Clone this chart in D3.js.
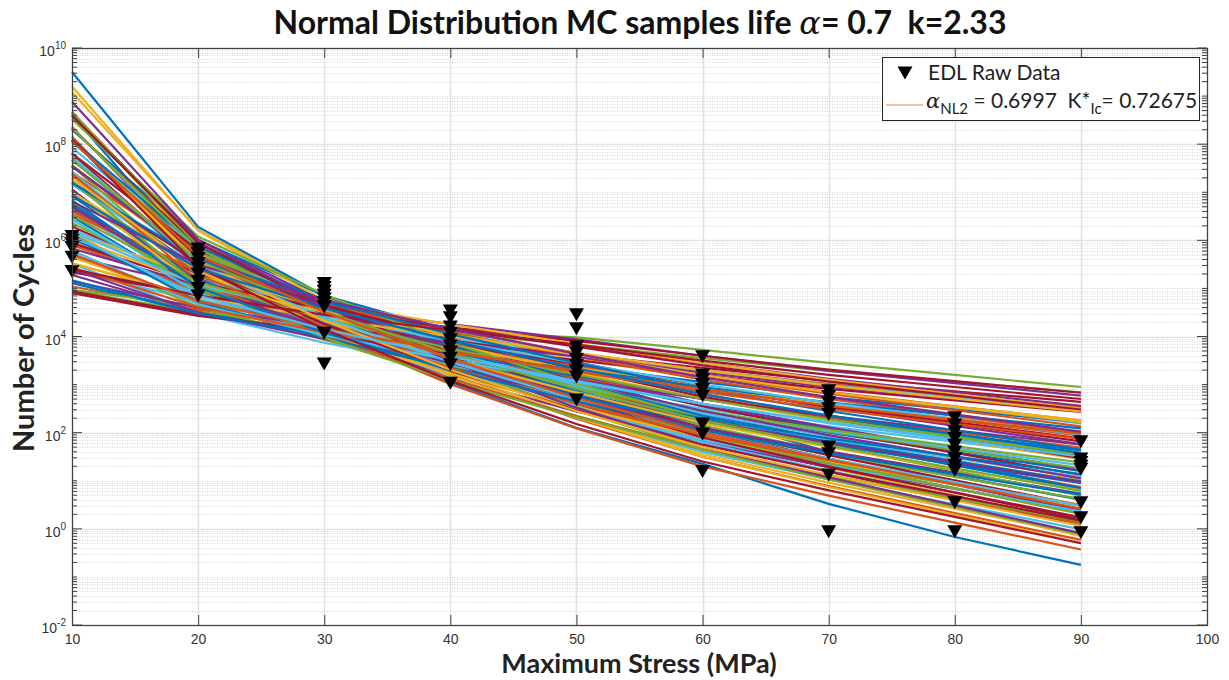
<!DOCTYPE html>
<html>
<head>
<meta charset="utf-8">
<script src="https://cdn.jsdelivr.net/npm/d3@7"></script>
<style>
  body { margin: 0; background: #fff; }
  svg { display: block; }
</style>
</head>
<body>
<svg id="chart" width="1229" height="680"></svg>
<script>
// stress levels (MPa) where every MC sample is evaluated
var stressLevels = [10, 20, 30, 40, 50, 60, 70, 80, 90];

// MC sample lives, log10(cycles) at each stress level
var mcLog10Cycles = [
  [8.60, 5.60, 4.15, 3.05, 2.10, 1.35, 0.52, -0.17, -0.75],
  [7.42, 5.68, 4.77, 4.02, 3.38, 2.80, 2.33, 1.91, 1.49],
  [9.08, 6.22, 4.83, 3.68, 2.72, 1.90, 1.27, 0.69, 0.11],
  [5.28, 4.52, 4.03, 3.63, 3.27, 2.90, 2.57, 2.29, 2.01],
  [4.95, 4.50, 4.22, 4.10, 3.98, 3.72, 3.45, 3.20, 2.95],
  [7.93, 5.77, 4.68, 3.78, 3.02, 2.35, 1.82, 1.34, 0.86],
  [6.29, 5.11, 4.44, 3.89, 3.41, 2.95, 2.56, 2.22, 1.88],
  [9.50, 6.28, 4.85, 4.12, 3.20, 2.35, 1.60, 0.95, 0.35],
  [5.04, 4.56, 4.19, 3.89, 3.61, 3.30, 3.01, 2.77, 2.53],
  [7.29, 5.41, 4.44, 3.64, 2.96, 2.35, 1.86, 1.42, 0.98],
  [6.93, 5.47, 4.68, 4.03, 3.47, 2.95, 2.52, 2.14, 1.76],
  [7.55, 5.25, 4.10, 3.15, 2.35, 1.65, 1.10, 0.60, 0.10],
  [6.22, 5.18, 4.57, 4.07, 3.63, 3.20, 2.83, 2.51, 2.19],
  [8.66, 5.94, 4.61, 3.51, 2.59, 1.80, 1.19, 0.63, 0.07],
  [5.11, 4.49, 4.06, 3.71, 3.39, 3.05, 2.74, 2.48, 2.22],
  [7.56, 5.54, 4.51, 3.66, 2.94, 2.30, 1.79, 1.33, 0.87],
  [6.18, 4.72, 3.93, 3.28, 2.72, 2.20, 1.77, 1.39, 1.01],
  [8.59, 6.01, 4.74, 3.69, 2.81, 2.05, 1.46, 0.92, 0.38],
  [4.97, 4.63, 4.32, 4.07, 3.83, 3.55, 3.28, 3.06, 2.84],
  [6.67, 4.93, 4.02, 3.27, 2.63, 2.05, 1.58, 1.16, 0.74],
  [6.61, 5.29, 4.56, 3.96, 3.44, 2.95, 2.54, 2.18, 1.82],
  [8.30, 6.00, 4.85, 3.90, 3.10, 2.40, 1.85, 1.35, 0.85],
  [5.90, 5.00, 4.45, 4.00, 3.60, 3.20, 2.85, 2.55, 2.25],
  [9.20, 6.20, 4.75, 3.55, 2.55, 1.70, 1.05, 0.45, -0.15],
  [5.66, 5.04, 4.61, 4.26, 3.94, 3.60, 3.29, 3.03, 2.77],
  [6.79, 4.91, 3.94, 3.14, 2.46, 1.85, 1.36, 0.92, 0.48],
  [5.52, 4.48, 3.87, 3.37, 2.93, 2.50, 2.13, 1.81, 1.49],
  [8.07, 5.63, 4.42, 3.42, 2.58, 1.85, 1.28, 0.76, 0.24],
  [6.75, 5.15, 4.30, 3.60, 3.00, 2.45, 2.00, 1.60, 1.20],
  [8.36, 5.64, 4.31, 3.21, 2.29, 1.50, 0.89, 0.33, -0.23],
  [5.53, 4.77, 4.28, 3.88, 3.52, 3.15, 2.82, 2.54, 2.26],
  [7.06, 5.04, 4.01, 3.16, 2.44, 1.80, 1.29, 0.83, 0.37],
  [6.36, 5.04, 4.31, 3.71, 3.19, 2.70, 2.29, 1.93, 1.57],
  [8.34, 5.76, 4.49, 3.44, 2.56, 1.80, 1.21, 0.67, 0.13],
  [4.90, 4.43, 4.12, 3.87, 3.63, 3.35, 3.08, 2.86, 2.64],
  [7.17, 5.43, 4.52, 3.77, 3.13, 2.55, 2.08, 1.66, 1.24],
  [5.97, 4.93, 4.32, 3.82, 3.38, 2.95, 2.58, 2.26, 1.94],
  [8.68, 5.82, 4.43, 3.28, 2.32, 1.50, 0.87, 0.29, -0.29],
  [6.68, 5.22, 4.43, 3.78, 3.22, 2.70, 2.27, 1.89, 1.51],
  [8.05, 5.75, 4.60, 3.65, 2.85, 2.15, 1.60, 1.10, 0.60],
  [5.36, 4.74, 4.31, 3.96, 3.64, 3.30, 2.99, 2.73, 2.47],
  [7.81, 5.79, 4.76, 3.91, 3.19, 2.55, 2.04, 1.58, 1.12],
  [6.04, 4.86, 4.19, 3.64, 3.16, 2.70, 2.31, 1.97, 1.63],
  [8.16, 5.44, 4.11, 3.01, 2.09, 1.30, 0.69, 0.13, -0.43],
  [5.65, 4.75, 4.20, 3.75, 3.35, 2.95, 2.60, 2.30, 2.00],
  [7.54, 5.66, 4.69, 3.89, 3.21, 2.60, 2.11, 1.67, 1.23],
  [6.43, 4.97, 4.18, 3.53, 2.97, 2.45, 2.02, 1.64, 1.26],
  [7.82, 5.38, 4.17, 3.17, 2.33, 1.60, 1.03, 0.51, -0.01],
  [5.34, 4.86, 4.49, 4.19, 3.91, 3.60, 3.31, 3.07, 2.83],
  [7.68, 5.52, 4.43, 3.53, 2.77, 2.10, 1.57, 1.09, 0.61],
  [5.72, 4.68, 4.07, 3.57, 3.13, 2.70, 2.33, 2.01, 1.69],
  [8.09, 5.51, 4.24, 3.19, 2.31, 1.55, 0.96, 0.42, -0.12],
  [5.83, 5.07, 4.58, 4.18, 3.82, 3.45, 3.12, 2.84, 2.56],
  [7.31, 5.29, 4.26, 3.41, 2.69, 2.05, 1.54, 1.08, 0.62],
  [6.11, 4.79, 4.06, 3.46, 2.94, 2.45, 2.04, 1.68, 1.32],
  [8.32, 5.88, 4.67, 3.67, 2.83, 2.10, 1.53, 1.01, 0.49],
  [6.50, 4.90, 4.05, 3.35, 2.75, 2.20, 1.75, 1.35, 0.95],
  [7.80, 5.50, 4.35, 3.40, 2.60, 1.90, 1.35, 0.85, 0.35],
  [6.15, 5.25, 4.70, 4.25, 3.85, 3.45, 3.10, 2.80, 2.50],
  [7.04, 5.16, 4.19, 3.39, 2.71, 2.10, 1.61, 1.17, 0.73],
  [5.79, 4.61, 3.94, 3.39, 2.91, 2.45, 2.06, 1.72, 1.38],
  [7.43, 5.27, 4.18, 3.28, 2.52, 1.85, 1.32, 0.84, 0.36],
  [4.94, 4.46, 4.09, 3.79, 3.51, 3.20, 2.91, 2.67, 2.43],
  [6.92, 5.18, 4.27, 3.52, 2.88, 2.30, 1.83, 1.41, 0.99],
  [6.54, 5.36, 4.69, 4.14, 3.66, 3.20, 2.81, 2.47, 2.13],
  [7.00, 5.40, 4.55, 3.85, 3.25, 2.70, 2.25, 1.85, 1.45],
  [5.40, 4.50, 3.95, 3.50, 3.10, 2.70, 2.35, 2.05, 1.75],
  [8.67, 5.88, 4.52, 3.40, 2.46, 1.65, 1.03, 0.46, -0.11],
  [7.18, 5.37, 4.43, 3.66, 3.00, 2.40, 1.92, 1.49, 1.06],
  [5.94, 5.11, 4.59, 4.17, 3.79, 3.40, 3.06, 2.77, 2.48],
  [8.09, 5.86, 4.74, 3.82, 3.04, 2.35, 1.81, 1.32, 0.83],
  [6.60, 5.35, 4.65, 4.08, 3.58, 3.10, 2.70, 2.35, 2.00],
  [7.00, 5.05, 4.05, 3.23, 2.53, 1.90, 1.40, 0.95, 0.50],
  [5.15, 4.60, 4.20, 3.88, 3.58, 3.25, 2.95, 2.70, 2.45],
  [8.33, 5.82, 4.58, 3.56, 2.70, 1.95, 1.37, 0.84, 0.31],
  [6.44, 4.91, 4.09, 3.42, 2.84, 2.30, 1.86, 1.47, 1.08],
  [7.21, 5.54, 4.66, 3.94, 3.32, 2.75, 2.29, 1.88, 1.47],
  [5.17, 4.48, 4.02, 3.65, 3.31, 2.95, 2.63, 2.36, 2.09],
  [7.39, 5.16, 4.04, 3.12, 2.34, 1.65, 1.11, 0.62, 0.13],
  [6.06, 5.09, 4.51, 4.04, 3.62, 3.20, 2.84, 2.53, 2.22],
  [7.55, 5.60, 4.60, 3.78, 3.08, 2.45, 1.95, 1.50, 1.05],
  [8.52, 6.08, 4.87, 3.87, 3.03, 2.30, 1.73, 1.21, 0.69],
  [6.18, 5.07, 4.43, 3.91, 3.45, 3.00, 2.62, 2.29, 1.96],
  [8.60, 5.95, 4.65, 3.58, 2.68, 1.90, 1.30, 0.75, 0.20],
  [6.12, 4.73, 3.97, 3.35, 2.81, 2.30, 1.88, 1.51, 1.14],
  [7.37, 5.28, 4.22, 3.35, 2.61, 1.95, 1.43, 0.96, 0.49],
  [5.52, 4.83, 4.37, 4.00, 3.66, 3.30, 2.98, 2.71, 2.44],
  [6.71, 5.04, 4.16, 3.44, 2.82, 2.25, 1.79, 1.38, 0.97],
  [7.23, 5.07, 3.98, 3.08, 2.32, 1.65, 1.12, 0.64, 0.16],
  [5.78, 4.67, 4.03, 3.51, 3.05, 2.60, 2.22, 1.89, 1.56],
  [7.81, 5.44, 4.26, 3.29, 2.47, 1.75, 1.19, 0.68, 0.17],
  [7.20, 5.60, 4.75, 4.05, 3.45, 2.90, 2.45, 2.05, 1.65],
  [5.44, 4.61, 4.09, 3.67, 3.29, 2.90, 2.56, 2.27, 1.98],
  [7.30, 5.35, 4.35, 3.53, 2.83, 2.20, 1.70, 1.25, 0.80],
  [8.88, 6.02, 4.63, 3.48, 2.52, 1.70, 1.07, 0.49, -0.09],
  [6.52, 5.13, 4.37, 3.75, 3.21, 2.70, 2.28, 1.91, 1.54],
  [7.74, 5.51, 4.39, 3.47, 2.69, 2.00, 1.46, 0.97, 0.48],
  [5.40, 4.85, 4.45, 4.13, 3.83, 3.50, 3.20, 2.95, 2.70],
  [6.83, 5.02, 4.08, 3.31, 2.65, 2.05, 1.57, 1.14, 0.71],
  [5.71, 4.74, 4.16, 3.69, 3.27, 2.85, 2.49, 2.18, 1.87],
  [8.08, 5.57, 4.33, 3.31, 2.45, 1.70, 1.12, 0.59, 0.06],
  [6.81, 5.49, 4.76, 4.16, 3.64, 3.15, 2.74, 2.38, 2.02],
  [7.67, 5.58, 4.52, 3.65, 2.91, 2.25, 1.73, 1.26, 0.79],
  [6.10, 4.85, 4.15, 3.58, 3.08, 2.60, 2.20, 1.85, 1.50],
  [8.10, 5.45, 4.15, 3.08, 2.18, 1.40, 0.80, 0.25, -0.30],
  [6.94, 5.41, 4.59, 3.92, 3.34, 2.80, 2.36, 1.97, 1.58],
  [8.06, 5.69, 4.51, 3.54, 2.72, 2.00, 1.44, 0.93, 0.42]
];

// EDL raw test data
var edlStress = [
  10, 10, 10, 10, 10, 10,
  20, 20, 20, 20, 20, 20, 20, 20, 20,
  30, 30, 30, 30, 30, 30, 30, 30, 30,
  40, 40, 40, 40, 40, 40, 40, 40, 40, 40,
  50, 50, 50, 50, 50, 50, 50, 50, 50,
  60, 60, 60, 60, 60, 60, 60, 60, 60,
  70, 70, 70, 70, 70, 70, 70, 70, 70,
  80, 80, 80, 80, 80, 80, 80, 80, 80, 80, 80,
  90, 90, 90, 90, 90, 90, 90, 90
];
var edlLog10Cycles = [
  6.08, 6.00, 5.93, 5.85, 5.65, 5.35,
  5.82, 5.72, 5.62, 5.52, 5.42, 5.30, 5.15, 5.00, 4.84,
  5.10, 5.02, 4.94, 4.86, 4.78, 4.70, 4.62, 4.07, 3.43,
  4.53, 4.39, 4.20, 4.07, 3.93, 3.80, 3.68, 3.55, 3.41, 3.03,
  4.45, 4.16, 3.78, 3.65, 3.52, 3.40, 3.28, 3.16, 2.68,
  3.58, 3.20, 3.10, 3.00, 2.90, 2.76, 2.18, 1.97, 1.19,
  2.87, 2.75, 2.62, 2.50, 2.38, 1.70, 1.56, 1.12, -0.06,
  2.31, 2.16, 2.02, 1.88, 1.74, 1.60, 1.46, 1.32, 1.22, 0.54, -0.06,
  1.81, 1.45, 1.38, 1.30, 1.24, 0.54, 0.23, -0.08
];

var xTicks = [10, 20, 30, 40, 50, 60, 70, 80, 90, 100];
var yLabelExps = [-2, 0, 2, 4, 6, 8, 10];
var lineColors = ["#0072BD", "#D95319", "#EDB120", "#7E2F8E", "#77AC30", "#4DBEEE", "#A2142F"];

var svg = d3.select("svg#chart"),
    width = +svg.attr("width"),
    height = +svg.attr("height");

var plot = {left: 72, right: 1207, top: 48, bottom: 625};

var x = d3.scaleLinear().domain([10, 100]).range([plot.left, plot.right]);
var y = d3.scaleLog().domain([1e-2, 1e10]).range([plot.bottom, plot.top]);

// minor (k * 10^e) and major (even decades) y values
var yMinor = [], yMajor = [];
for (var e = -2; e <= 10; e++) {
  for (var k = 1; k <= 9; k++) {
    var v = k * Math.pow(10, e);
    if (v > 1e10) break;
    if (k == 1 && e % 2 == 0) yMajor.push(v);
    else yMinor.push(v);
  }
}

//grid
var grid = svg.append("g").attr("class", "grid");
grid.selectAll("line.minor")
  .data(yMinor)
  .enter().append("line")
  .attr("class", "minor")
  .attr("x1", plot.left).attr("x2", plot.right)
  .attr("y1", function(d) { return Math.round(y(d)) + 0.5; })
  .attr("y2", function(d) { return Math.round(y(d)) + 0.5; })
  .style("stroke", "#d6d6d6")
  .style("stroke-dasharray", "1,1.5");

grid.selectAll("line.majory")
  .data(yMajor)
  .enter().append("line")
  .attr("class", "majory")
  .attr("x1", plot.left).attr("x2", plot.right)
  .attr("y1", function(d) { return Math.round(y(d)) + 0.5; })
  .attr("y2", function(d) { return Math.round(y(d)) + 0.5; })
  .style("stroke", "#e2e2e2")
  .style("stroke-width", 1.5);

grid.selectAll("line.majorx")
  .data(xTicks)
  .enter().append("line")
  .attr("class", "majorx")
  .attr("x1", function(d) { return Math.round(x(d)) + 0.5; })
  .attr("x2", function(d) { return Math.round(x(d)) + 0.5; })
  .attr("y1", plot.top).attr("y2", plot.bottom)
  .style("stroke", "#e2e2e2")
  .style("stroke-width", 1.5);

//MC sample lines
var line = d3.line()
  .x(function(d, i) { return x(stressLevels[i]); })
  .y(function(d) { return y(Math.pow(10, d)); });

svg.append("g")
  .attr("class", "mc")
  .selectAll("path")
  .data(mcLog10Cycles)
  .enter().append("path")
  .attr("d", line)
  .style("fill", "none")
  .style("stroke", function(d, i) { return lineColors[i % lineColors.length]; })
  .style("stroke-width", 2.2);

//EDL raw data triangles
var tri = "M-7.5,-6.5L7.5,-6.5L0,6.5Z";
svg.append("g")
  .attr("class", "edl")
  .selectAll("path")
  .data(edlLog10Cycles)
  .enter().append("path")
  .attr("d", tri)
  .attr("transform", function(d, i) {
    return "translate(" + x(edlStress[i]) + "," + y(Math.pow(10, d)) + ")";
  })
  .style("fill", "black");

//axes box and ticks
var axisColor = "#404040";
var axes = svg.append("g").attr("class", "axes");

axes.append("rect")
  .attr("x", plot.left + 0.5).attr("y", plot.top + 0.5)
  .attr("width", plot.right - plot.left).attr("height", plot.bottom - plot.top)
  .style("fill", "none")
  .style("stroke", axisColor)
  .style("stroke-width", 1.2);

var xAxis = d3.axisBottom(x).tickValues(xTicks).tickSizeInner(-10).tickSizeOuter(0).tickPadding(9);
var gx = axes.append("g")
  .attr("transform", "translate(0," + plot.bottom + ")")
  .call(xAxis);
gx.select(".domain").remove();
gx.selectAll("line").style("stroke", axisColor);
gx.selectAll("text")
  .style("font-family", "'Liberation Sans', Arial, sans-serif")
  .style("font-size", "14px")
  .style("fill", "#333");

var gxTop = axes.append("g")
  .attr("transform", "translate(0," + plot.top + ")")
  .call(d3.axisTop(x).tickValues(xTicks).tickSizeInner(-10).tickSizeOuter(0).tickFormat(""));
gxTop.select(".domain").remove();
gxTop.selectAll("line").style("stroke", axisColor);

// y ticks on both sides, inward
[plot.left, plot.right].forEach(function(px) {
  var dir = px == plot.left ? 1 : -1;
  axes.append("g").selectAll("line")
    .data(yMinor)
    .enter().append("line")
    .attr("x1", px).attr("x2", px + dir * 5)
    .attr("y1", function(d) { return y(d); })
    .attr("y2", function(d) { return y(d); })
    .style("stroke", axisColor);
  axes.append("g").selectAll("line")
    .data(yMajor)
    .enter().append("line")
    .attr("x1", px).attr("x2", px + dir * 10)
    .attr("y1", function(d) { return y(d); })
    .attr("y2", function(d) { return y(d); })
    .style("stroke", axisColor);
});

// y tick labels 10^n
var yl = axes.append("g").selectAll("text")
  .data(yLabelExps)
  .enter().append("text")
  .attr("x", plot.left - 6)
  .attr("y", function(d) { return y(Math.pow(10, d)) + 8; })
  .attr("text-anchor", "end")
  .style("font-family", "'Liberation Sans', Arial, sans-serif")
  .style("font-size", "14px")
  .style("fill", "#333");
yl.append("tspan").text("10");
yl.append("tspan")
  .attr("dy", -7)
  .style("font-size", "10px")
  .text(function(d) { return d; });

//title
var title = svg.append("text")
  .attr("x", 640).attr("y", 34)
  .attr("text-anchor", "middle")
  .style("font-family", "Lato, 'Open Sans', sans-serif")
  .style("font-weight", "bold")
  .style("font-size", "32px")
  .style("fill", "#111");
title.append("tspan").text("Normal Distribution MC samples life ");
title.append("tspan")
  .style("font-family", "'DejaVu Serif', serif")
  .style("font-style", "italic")
  .style("font-weight", "normal")
  .text("\u03b1");
title.append("tspan").text("= 0.7\u00a0\u00a0k=2.33");

//axis labels
svg.append("text")
  .attr("x", 639).attr("y", 673)
  .attr("text-anchor", "middle")
  .style("font-family", "Lato, 'Open Sans', sans-serif")
  .style("font-weight", "bold")
  .style("font-size", "27px")
  .style("fill", "#222")
  .text("Maximum Stress (MPa)");

svg.append("text")
  .attr("transform", "translate(34,338) rotate(-90)")
  .attr("text-anchor", "middle")
  .style("font-family", "Lato, 'Open Sans', sans-serif")
  .style("font-weight", "bold")
  .style("font-size", "29px")
  .style("fill", "#222")
  .text("Number of Cycles");

//legend
var legend = svg.append("g").attr("class", "legend");
legend.append("rect")
  .attr("x", 882.5).attr("y", 57.5)
  .attr("width", 317).attr("height", 63)
  .style("fill", "white")
  .style("stroke", "#262626")
  .style("stroke-width", 1);

legend.append("path")
  .attr("d", tri)
  .attr("transform", "translate(905,73)")
  .style("fill", "black");
legend.append("text")
  .attr("x", 928).attr("y", 80)
  .style("font-family", "Lato, 'Open Sans', sans-serif")
  .style("font-size", "21px")
  .style("fill", "#222")
  .text("EDL Raw Data");

legend.append("line")
  .attr("x1", 886).attr("x2", 923)
  .attr("y1", 105).attr("y2", 105)
  .style("stroke", "#D95319")
  .style("stroke-opacity", 0.7)
  .style("stroke-width", 1.2);

var lt = legend.append("text")
  .attr("x", 926).attr("y", 108)
  .style("font-family", "Lato, 'Open Sans', sans-serif")
  .style("font-size", "21px")
  .style("fill", "#222");
lt.append("tspan")
  .style("font-family", "'DejaVu Serif', serif")
  .style("font-style", "italic")
  .text("\u03b1");
lt.append("tspan").attr("dy", 6).style("font-size", "15px").text("NL2");
lt.append("tspan").attr("dy", -6).text(" = 0.6997\u00a0\u00a0K*");
lt.append("tspan").attr("dy", 6).style("font-size", "15px").text("Ic");
lt.append("tspan").attr("dy", -6).text("= 0.72675");
</script>
</body>
</html>
